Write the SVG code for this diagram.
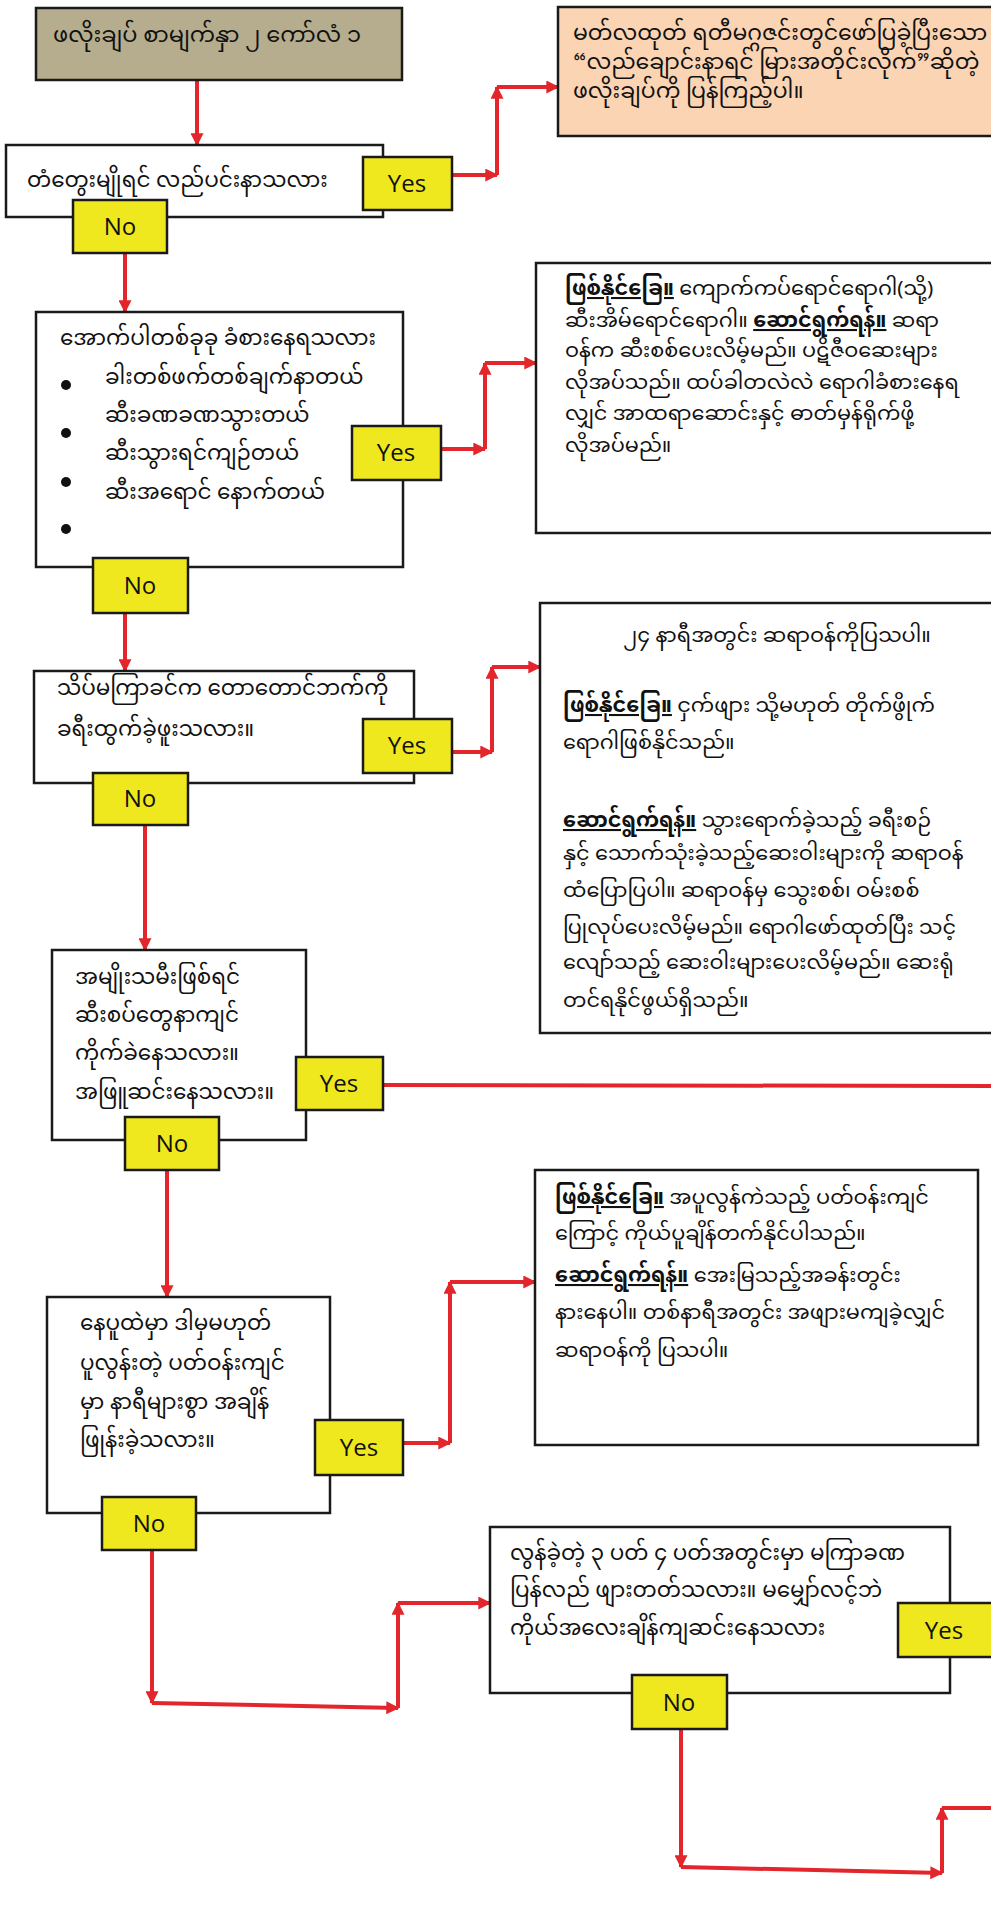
<svg xmlns="http://www.w3.org/2000/svg" width="991" height="1909" viewBox="0 0 991 1909">
<style>
.box{fill:#fff;stroke:#1a1a1a;stroke-width:2.5}
.title{fill:#B5AD8E;stroke:#1a1a1a;stroke-width:2.5}
.orange{fill:#FBD4B4;stroke:#1a1a1a;stroke-width:2.5}
.yn{fill:#EFE81F;stroke:#1a1a1a;stroke-width:2.5}
.ynt{font-family:"Open Sans","Liberation Sans",sans-serif;font-size:24px;fill:#111;text-anchor:middle}
.my{font-family:"Noto Sans Myanmar","Myanmar Text",Padauk,"Noto Sans",sans-serif;font-size:21.5px;fill:#111}
.r{font-size:20.8px}
.t{font-size:22.5px}
.o{font-size:22px}
.b{font-weight:bold;text-decoration:underline}
.c{fill:none;stroke:#E3262B;stroke-width:4}
.dot{fill:#111}
</style>
<defs>
<marker id="ah" viewBox="0 0 10 10" refX="9" refY="5" markerWidth="13" markerHeight="13" markerUnits="userSpaceOnUse" orient="auto">
<path d="M0,0 L10,5 L0,10 Z" fill="#E3262B"/>
</marker>
</defs>
<rect width="991" height="1909" fill="#fff"/>

<g id="connectors">
<path class="c" d="M197,80 V145" marker-end="url(#ah)"/>
<path class="c" d="M452,175 H497" marker-end="url(#ah)"/>
<path class="c" d="M497,175 V87" marker-end="url(#ah)"/>
<path class="c" d="M497,87 H558" marker-end="url(#ah)"/>
<path class="c" d="M125,253 V312" marker-end="url(#ah)"/>
<path class="c" d="M441,449 H485" marker-end="url(#ah)"/>
<path class="c" d="M485,449 V363" marker-end="url(#ah)"/>
<path class="c" d="M485,363 H536" marker-end="url(#ah)"/>
<path class="c" d="M125,613 V671" marker-end="url(#ah)"/>
<path class="c" d="M452,752 H492" marker-end="url(#ah)"/>
<path class="c" d="M492,752 V667" marker-end="url(#ah)"/>
<path class="c" d="M492,667 H540" marker-end="url(#ah)"/>
<path class="c" d="M145,825 V950" marker-end="url(#ah)"/>
<path class="c" d="M383,1085 L991,1086"/>
<path class="c" d="M167,1170 V1297" marker-end="url(#ah)"/>
<path class="c" d="M403,1443 H450" marker-end="url(#ah)"/>
<path class="c" d="M450,1443 V1282" marker-end="url(#ah)"/>
<path class="c" d="M450,1282 H535" marker-end="url(#ah)"/>
<path class="c" d="M152,1550 V1703" marker-end="url(#ah)"/>
<path class="c" d="M152,1703 L398,1708" marker-end="url(#ah)"/>
<path class="c" d="M398,1708 V1603" marker-end="url(#ah)"/>
<path class="c" d="M398,1603 H490" marker-end="url(#ah)"/>
<path class="c" d="M681,1729 V1867" marker-end="url(#ah)"/>
<path class="c" d="M681,1867 L942,1873" marker-end="url(#ah)"/>
<path class="c" d="M942,1873 V1808" marker-end="url(#ah)"/>
<path class="c" d="M942,1808 H993"/>
</g>

<g id="title">
<rect class="title" x="36" y="8" width="366" height="72"/>
<text class="my t" x="53" y="42">ဖလိုးချပ် စာမျက်နှာ ၂ ကော်လံ ၁</text>
</g>

<g id="note-orange">
<rect class="orange" x="558" y="7" width="440" height="129"/>
<text class="my o" x="573" y="40">မတ်လထုတ် ရတီမဂ္ဂဇင်းတွင်ဖော်ပြခဲ့ပြီးသော</text>
<text class="my o" x="573" y="69">“လည်ချောင်းနာရင် မြားအတိုင်းလိုက်”ဆိုတဲ့</text>
<text class="my o" x="573" y="98">ဖလိုးချပ်ကို ပြန်ကြည့်ပါ။</text>
</g>

<g id="q1">
<rect class="box" x="6" y="145" width="377" height="72"/>
<text class="my" x="27" y="187">တံတွေးမျိုရင် လည်ပင်းနာသလား</text>
</g>
<g id="q1-yes"><rect class="yn" x="363" y="157" width="89" height="53"/><text class="ynt" x="407" y="192">Yes</text></g>
<g id="q1-no"><rect class="yn" x="73" y="200" width="94" height="53"/><text class="ynt" x="120" y="235">No</text></g>

<g id="q2">
<rect class="box" x="36" y="312" width="367" height="255"/>
<text class="my" x="60" y="345">အောက်ပါတစ်ခုခု ခံစားနေရသလား</text>
<circle class="dot" cx="66" cy="385" r="5"/>
<circle class="dot" cx="66" cy="433" r="5"/>
<circle class="dot" cx="66" cy="482" r="5"/>
<circle class="dot" cx="66" cy="529" r="5"/>
<text class="my" x="105" y="384">ခါးတစ်ဖက်တစ်ချက်နာတယ်</text>
<text class="my" x="105" y="422">ဆီးခဏခဏသွားတယ်</text>
<text class="my" x="105" y="460">ဆီးသွားရင်ကျဉ်တယ်</text>
<text class="my" x="105" y="499">ဆီးအရောင် နောက်တယ်</text>
</g>
<g id="q2-yes"><rect class="yn" x="352" y="426" width="89" height="54"/><text class="ynt" x="396" y="461">Yes</text></g>
<g id="q2-no"><rect class="yn" x="93" y="558" width="95" height="55"/><text class="ynt" x="140" y="594">No</text></g>

<g id="a2">
<rect class="box" x="536" y="263" width="460" height="270"/>
<text class="my r" x="565" y="295"><tspan class="b">ဖြစ်နိုင်ခြေ။</tspan> ကျောက်ကပ်ရောင်ရောဂါ(သို့)</text>
<text class="my r" x="565" y="327">ဆီးအိမ်ရောင်ရောဂါ။ <tspan class="b">ဆောင်ရွက်ရန်။</tspan> ဆရာ</text>
<text class="my r" x="565" y="357">ဝန်က ဆီးစစ်ပေးလိမ့်မည်။ ပဋိဇီဝဆေးများ</text>
<text class="my r" x="565" y="389">လိုအပ်သည်။ ထပ်ခါတလဲလဲ ရောဂါခံစားနေရ</text>
<text class="my r" x="565" y="420">လျှင် အာထရာဆောင်းနှင့် ဓာတ်မှန်ရိုက်ဖို့</text>
<text class="my r" x="565" y="452">လိုအပ်မည်။</text>
</g>

<g id="q3">
<rect class="box" x="34" y="671" width="380" height="112"/>
<text class="my" x="57" y="695">သိပ်မကြာခင်က တောတောင်ဘက်ကို</text>
<text class="my" x="57" y="736">ခရီးထွက်ခဲ့ဖူးသလား။</text>
</g>
<g id="q3-yes"><rect class="yn" x="363" y="719" width="89" height="54"/><text class="ynt" x="407" y="754">Yes</text></g>
<g id="q3-no"><rect class="yn" x="93" y="773" width="95" height="52"/><text class="ynt" x="140" y="807">No</text></g>

<g id="a3">
<rect class="box" x="540" y="603" width="456" height="430"/>
<text class="my r" x="777" y="642" text-anchor="middle">၂၄ နာရီအတွင်း ဆရာဝန်ကိုပြသပါ။</text>
<text class="my r" x="563" y="712"><tspan class="b">ဖြစ်နိုင်ခြေ။</tspan> ငှက်ဖျား သို့မဟုတ် တိုက်ဖွိုက်</text>
<text class="my r" x="563" y="749">ရောဂါဖြစ်နိုင်သည်။</text>
<text class="my r" x="563" y="827"><tspan class="b">ဆောင်ရွက်ရန်။</tspan> သွားရောက်ခဲ့သည့် ခရီးစဉ်</text>
<text class="my r" x="563" y="860">နှင့် သောက်သုံးခဲ့သည့်ဆေးဝါးများကို ဆရာဝန်</text>
<text class="my r" x="563" y="897">ထံပြောပြပါ။ ဆရာဝန်မှ သွေးစစ်၊ ဝမ်းစစ်</text>
<text class="my r" x="563" y="934">ပြုလုပ်ပေးလိမ့်မည်။ ရောဂါဖော်ထုတ်ပြီး သင့်</text>
<text class="my r" x="563" y="969">လျော်သည့် ဆေးဝါးများပေးလိမ့်မည်။ ဆေးရုံ</text>
<text class="my r" x="563" y="1007">တင်ရနိုင်ဖွယ်ရှိသည်။</text>
</g>

<g id="q4">
<rect class="box" x="52" y="950" width="254" height="190"/>
<text class="my" x="75" y="984">အမျိုးသမီးဖြစ်ရင်</text>
<text class="my" x="75" y="1022">ဆီးစပ်တွေနာကျင်</text>
<text class="my" x="75" y="1060">ကိုက်ခဲနေသလား။</text>
<text class="my" x="75" y="1099">အဖြူဆင်းနေသလား။</text>
</g>
<g id="q4-yes"><rect class="yn" x="296" y="1057" width="87" height="53"/><text class="ynt" x="339" y="1092">Yes</text></g>
<g id="q4-no"><rect class="yn" x="125" y="1117" width="94" height="53"/><text class="ynt" x="172" y="1152">No</text></g>

<g id="q5">
<rect class="box" x="47" y="1297" width="283" height="216"/>
<text class="my" x="80" y="1330">နေပူထဲမှာ ဒါမှမဟုတ်</text>
<text class="my" x="80" y="1370">ပူလွန်းတဲ့ ပတ်ဝန်းကျင်</text>
<text class="my" x="80" y="1409">မှာ နာရီများစွာ အချိန်</text>
<text class="my" x="80" y="1447">ဖြုန်းခဲ့သလား။</text>
</g>
<g id="q5-yes"><rect class="yn" x="315" y="1420" width="88" height="55"/><text class="ynt" x="359" y="1456">Yes</text></g>
<g id="q5-no"><rect class="yn" x="102" y="1497" width="94" height="53"/><text class="ynt" x="149" y="1532">No</text></g>

<g id="a4">
<rect class="box" x="535" y="1170" width="443" height="275"/>
<text class="my r" x="555" y="1204"><tspan class="b">ဖြစ်နိုင်ခြေ။</tspan> အပူလွန်ကဲသည့် ပတ်ဝန်းကျင်</text>
<text class="my r" x="555" y="1240">ကြောင့် ကိုယ်ပူချိန်တက်နိုင်ပါသည်။</text>
<text class="my r" x="555" y="1282"><tspan class="b">ဆောင်ရွက်ရန်။</tspan> အေးမြသည့်အခန်းတွင်း</text>
<text class="my r" x="555" y="1319">နားနေပါ။ တစ်နာရီအတွင်း အဖျားမကျခဲ့လျှင်</text>
<text class="my r" x="555" y="1357">ဆရာဝန်ကို ပြသပါ။</text>
</g>

<g id="q6">
<rect class="box" x="490" y="1527" width="460" height="166"/>
<text class="my" x="510" y="1560">လွန်ခဲ့တဲ့ ၃ ပတ် ၄ ပတ်အတွင်းမှာ မကြာခဏ</text>
<text class="my" x="510" y="1597">ပြန်လည် ဖျားတတ်သလား။ မမျှော်လင့်ဘဲ</text>
<text class="my" x="510" y="1635">ကိုယ်အလေးချိန်ကျဆင်းနေသလား</text>
</g>
<g id="q6-yes"><rect class="yn" x="898" y="1603" width="98" height="54"/><text class="ynt" x="944" y="1639">Yes</text></g>
<g id="q6-no"><rect class="yn" x="632" y="1675" width="95" height="54"/><text class="ynt" x="679" y="1711">No</text></g>
</svg>
